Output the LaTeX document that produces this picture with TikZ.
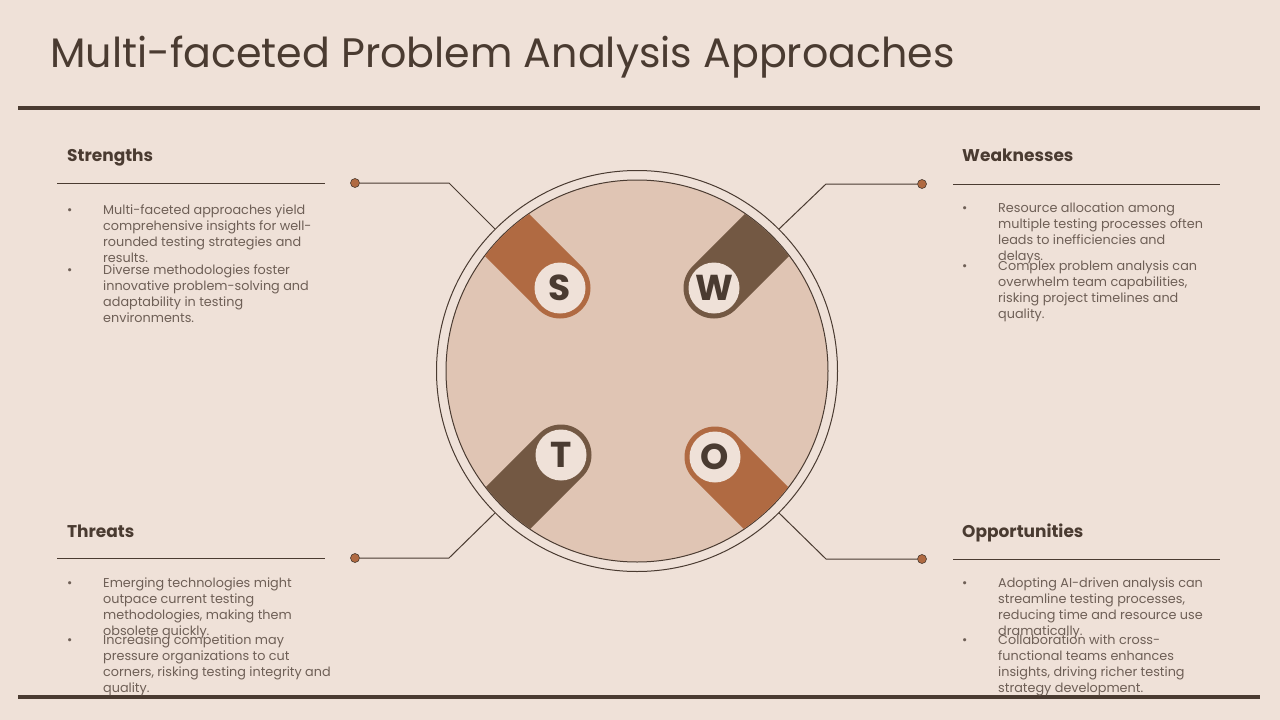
\documentclass[tikz,border=0pt]{standalone}
\usepackage{fontspec}
\setmainfont{Poppins}
\usetikzlibrary{positioning}

\definecolor{bgsand}{HTML}{EFE1D8}
\definecolor{discfill}{HTML}{E0C5B4}
\definecolor{inkbrown}{HTML}{4A3B31}
\definecolor{bodygrey}{HTML}{6E5F56}
\definecolor{rust}{HTML}{B06A42}
\definecolor{umber}{HTML}{735843}

\tikzset{
  heading/.style={anchor=base west, inner sep=0pt, text=inkbrown,
    font=\fontsize{17}{20}\selectfont\bfseries},
  itemtext/.style={anchor=north west, inner sep=0pt, align=left, text=bodygrey,
    font=\fontsize{12.8}{16}\selectfont},
  itemdot/.style={anchor=north west, inner sep=0pt, text=bodygrey,
    font=\fontsize{12.8}{16}\selectfont},
  rule/.style={draw=inkbrown, line width=1pt},
  pin/.style={circle, fill=rust, draw=inkbrown, line width=0.6pt,
    minimum size=9pt, inner sep=0pt},
  tab/.style={line width=61pt, line cap=round},
  letter/.style={circle, fill=bgsand, minimum size=51pt, inner sep=0pt,
    text=inkbrown, font=\fontsize{36}{36}\selectfont\bfseries}
}

\begin{document}
\begin{tikzpicture}[x=1pt, y=-1pt]
  \fill[bgsand] (0,0) rectangle (1280,720);
  \useasboundingbox (0,0) rectangle (1280,720);

  % title and page rules
  \node[anchor=base west, inner sep=0pt, text=inkbrown,
    font=\fontsize{41.2}{44}\selectfont] (title) at (50,67)
    {Multi-faceted Problem Analysis Approaches};
  \coordinate (topL) at (18,108);
  \coordinate (topR) at (1260,108);
  \coordinate (botL) at (18,697);
  \coordinate (botR) at (1260,697);
  \draw[inkbrown, line width=4pt] (topL) -- (topR);
  \draw[inkbrown, line width=4pt] (botL) -- (botR);

  % disc
  \node[circle, draw=inkbrown, line width=1pt, minimum size=401pt,
    inner sep=0pt] (ring) at (637,371) {};
  \node[circle, draw=inkbrown, fill=discfill, line width=1pt,
    minimum size=382pt, inner sep=0pt] (disc) at (637,371) {};

  % tabs
  \coordinate (cS) at (560,288);
  \coordinate (cW) at (714,288);
  \coordinate (cT) at (561,455);
  \coordinate (cO) at (715,457);
  \begin{scope}
    \clip (disc.center) circle (190.5pt);
    \draw[tab, rust] (cS) -- ++(-160,-160);
    \draw[tab, umber] (cW) -- ++(160,-160);
    \draw[tab, umber] (cT) -- ++(-160,160);
    \draw[tab, rust] (cO) -- ++(160,160);
  \end{scope}
  \node[letter] (S) at (cS) {S};
  \node[letter] (W) at (cW) {W};
  \node[letter] (T) at (cT) {T};
  \node[letter] (O) at (cO) {O};

  % connectors
  \node[pin] (pinS) at (355,183) {};
  \node[pin] (pinW) at (922,184) {};
  \node[pin] (pinT) at (355,558) {};
  \node[pin] (pinO) at (922,559) {};
  \coordinate (elbS) at (449,183);
  \coordinate (elbW) at (826,184);
  \coordinate (elbT) at (449,558);
  \coordinate (elbO) at (826,559);
  \draw[inkbrown, line width=1pt] (pinS) -- (elbS) -- (ring.135);
  \draw[inkbrown, line width=1pt] (pinW) -- (elbW) -- (ring.45);
  \draw[inkbrown, line width=1pt] (pinT) -- (elbT) -- (ring.225);
  \draw[inkbrown, line width=1pt] (pinO) -- (elbO) -- (ring.315);

  % Strengths
  \node[heading] (hS) at (67,161) {Strengths};
  \draw[rule] (57,183) -- (325,183);
  \node[itemdot] (dS1) at (67,202.8) {\strut•};
  \node[itemtext] (tS1) at (103,202.8) {\strut Multi-faceted approaches yield\\
    comprehensive insights for well-\\rounded testing strategies and\\results.};
  \node[itemdot] (dS2) at (67,262.8) {\strut•};
  \node[itemtext] (tS2) at (103,262.8) {\strut Diverse methodologies foster\\
    innovative problem-solving and\\adaptability in testing\\environments.};

  % Weaknesses
  \node[heading] (hW) at (962,161) {Weaknesses};
  \draw[rule] (953,184) -- (1220,184);
  \node[itemdot] (dW1) at (962,200.8) {\strut•};
  \node[itemtext] (tW1) at (998,200.8) {\strut Resource allocation among\\
    multiple testing processes often\\leads to inefficiencies and\\delays.};
  \node[itemdot] (dW2) at (962,258.8) {\strut•};
  \node[itemtext] (tW2) at (998,258.8) {\strut Complex problem analysis can\\
    overwhelm team capabilities,\\risking project timelines and\\quality.};

  % Threats
  \node[heading] (hT) at (67,537) {Threats};
  \draw[rule] (57,558) -- (325,558);
  \node[itemdot] (dT1) at (67,575.8) {\strut•};
  \node[itemtext] (tT1) at (103,575.8) {\strut Emerging technologies might\\
    outpace current testing\\methodologies, making them\\obsolete quickly.};
  \node[itemdot] (dT2) at (67,632.8) {\strut•};
  \node[itemtext] (tT2) at (103,632.8) {\strut Increasing competition may\\
    pressure organizations to cut\\corners, risking testing integrity and\\quality.};

  % Opportunities
  \node[heading] (hO) at (962,537) {Opportunities};
  \draw[rule] (953,559) -- (1220,559);
  \node[itemdot] (dO1) at (962,575.8) {\strut•};
  \node[itemtext] (tO1) at (998,575.8) {\strut Adopting AI-driven analysis can\\
    streamline testing processes,\\reducing time and resource use\\dramatically.};
  \node[itemdot] (dO2) at (962,632.8) {\strut•};
  \node[itemtext] (tO2) at (998,632.8) {\strut Collaboration with cross-\\
    functional teams enhances\\insights, driving richer testing\\strategy development.};
\end{tikzpicture}
\end{document}
